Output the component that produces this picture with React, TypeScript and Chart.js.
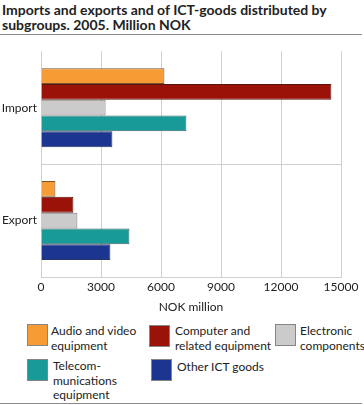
import React, { useEffect, useRef } from "react";
import { Chart, registerables } from "chart.js";

Chart.register(...registerables);

const categories = ["Import", "Export"];
const seriesNames = [
  "Audio and video equipment",
  "Computer and related equipment",
  "Electronic components",
  "Telecommunications equipment",
  "Other ICT goods",
];
const audioVideo = [6170, 720];
const computer = [14520, 1620];
const electronic = [3230, 1820];
const telecom = [7270, 4420];
const otherICT = [3570, 3470];
const xTicks = [0, 3000, 6000, 9000, 12000, 15000];

const fillColors = ["#f79c34", "#9b1209", "#cbcbcb", "#189a99", "#1b3590"];
const borderColors = ["#7a5530", "#5a1410", "#7d7d7d", "#3d6665", "#2a3566"];

const legendItems = [
  { lines: ["Audio and video", "equipment"], box: [27, 324], text: [51, 324] },
  { lines: ["Computer and", "related equipment"], box: [149, 325], text: [175, 324] },
  { lines: ["Electronic", "components"], box: [275, 324], text: [300, 324] },
  { lines: ["Telecom-", "munications", "equipment"], box: [27, 359], text: [53, 359] },
  { lines: ["Other ICT goods"], box: [151, 359], text: [177, 360] },
];

const FONT = "Lato, 'Open Sans', sans-serif";

export default function App() {
  const ref = useRef<HTMLCanvasElement | null>(null);

  useEffect(() => {
    if (!ref.current) return;
    const values = [audioVideo, computer, electronic, telecom, otherICT];
    const chart = new Chart(ref.current, {
      type: "bar",
      data: {
        labels: categories,
        datasets: values.map((v, i) => ({
          label: seriesNames[i],
          data: v,
          backgroundColor: fillColors[i],
          borderColor: borderColors[i],
          borderWidth: 1,
          categoryPercentage: 0.7,
          barPercentage: 1.0,
        })),
      },
      options: {
        indexAxis: "y",
        animation: false,
        responsive: false,
        maintainAspectRatio: false,
        layout: { padding: { top: 7, right: 23, left: 0, bottom: 0 } },
        plugins: { legend: { display: false }, tooltip: { enabled: false }, title: { display: false } },
        scales: {
          x: {
            min: 0,
            max: 15000,
            afterBuildTicks: (scale: any) => {
              scale.ticks = xTicks.map((v) => ({ value: v }));
            },
            afterFit: (scale: any) => {
              scale.height = 38;
            },
            grid: { color: "#cfcfcf", drawTicks: false, lineWidth: 1 },
            border: { display: true, color: "#cfcfcf" },
            ticks: {
              padding: 3,
              color: "#222",
              font: { family: FONT, size: 12 },
              maxRotation: 0,
              callback: (v: any) => String(v),
            },
            title: {
              display: true,
              text: "NOK million",
              color: "#222",
              font: { family: FONT, size: 12 },
              padding: { top: 0, bottom: 1 },
            },
          },
          y: {
            afterFit: (scale: any) => {
              scale.width = 41;
            },
            grid: {
              offset: true,
              drawTicks: false,
              color: (ctx: any) => (ctx.index === 1 ? "#cfcfcf" : "rgba(0,0,0,0)"),
            },
            border: { display: false },
            ticks: {
              padding: 4,
              color: "#222",
              font: { family: FONT, size: 12 },
            },
          },
        },
      },
    });
    return () => chart.destroy();
  }, []);

  return (
    <div
      style={{
        position: "fixed",
        left: 0,
        top: 0,
        width: 364,
        height: 405,
        background: "#fff",
        fontFamily: FONT,
        color: "#222",
        overflow: "hidden",
      }}
    >
      <div
        style={{
          position: "absolute",
          left: 2,
          top: 2,
          fontSize: 14,
          fontWeight: 700,
          lineHeight: "15px",
          whiteSpace: "nowrap",
        }}
      >
        Imports and exports and of ICT-goods distributed by
        <br />
        subgroups. 2005. Million NOK
      </div>
      <div style={{ position: "absolute", left: 0, top: 34, width: 362, height: 1, background: "#8a8a8a" }} />
      <canvas ref={ref} width={364} height={275} style={{ position: "absolute", left: 0, top: 40 }} />
      {legendItems.map((it, i) => (
        <React.Fragment key={i}>
          <div
            style={{
              position: "absolute",
              left: it.box[0],
              top: it.box[1],
              width: 19,
              height: 20,
              background: fillColors[i],
              border: "1px solid #858585",
            }}
          />
          <div
            style={{
              position: "absolute",
              left: it.text[0],
              top: it.text[1],
              fontSize: 12,
              lineHeight: "14.5px",
              whiteSpace: "nowrap",
            }}
          >
            {it.lines.map((l, j) => (
              <div key={j}>{l}</div>
            ))}
          </div>
        </React.Fragment>
      ))}
      <div style={{ position: "absolute", left: 0, top: 403, width: 362, height: 1, background: "#8a8a8a" }} />
    </div>
  );
}
